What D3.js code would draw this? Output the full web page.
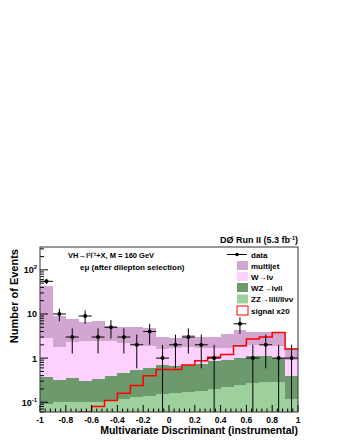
<!DOCTYPE html>
<html>
<head>
<meta charset="utf-8">
<script src="https://cdn.jsdelivr.net/npm/d3@7"></script>
<style>
  body { margin: 0; background: #fff; }
  text { font-family: "Liberation Sans", Arial, sans-serif; }
</style>
</head>
<body>
<svg id="chart" width="340" height="440"></svg>
<script>
// bin edges: 20 bins from -1 to 1
const binEdges = d3.range(21).map(i => -1 + i * 0.1);

// stacked backgrounds (bottom to top), events per bin
const zz = [0.09, 0.1, 0.1, 0.1, 0.1, 0.11, 0.12, 0.13, 0.14, 0.15, 0.16, 0.17, 0.18, 0.2, 0.22, 0.25, 0.27, 0.28, 0.28, 0.12];
const wz = [0.29, 0.22, 0.25, 0.2, 0.23, 0.29, 0.33, 0.42, 0.46, 0.55, 0.49, 0.53, 0.57, 0.65, 0.68, 0.75, 0.83, 0.82, 0.72, 0.28];
const wlnu = [2.42, 1.48, 1.95, 2.1, 2.17, 2.0, 1.75, 1.45, 1.3, 0.9, 1.05, 1.1, 0.95, 0.85, 0.8, 0.8, 0.9, 0.9, 0.9, 0.5];
const multijet = [40, 7.2, 5.2, 4.2, 4.5, 2.9, 2.8, 3.0, 2.9, 1.4, 1.1, 1.5, 1.3, 1.3, 1.9, 2.5, 2.0, 2.0, 1.8, 0.8];

// signal x20 (outline only)
const signal = [0.02, 0.03, 0.045, 0.06, 0.08, 0.11, 0.16, 0.24, 0.4, 0.55, 0.55, 0.7, 0.87, 1.05, 1.2, 1.9, 2.7, 3.0, 3.8, 1.6];

// observed data
const dataCounts = [55, 10, 3, 9, 3, 5, 3, 2, 4, 1, 2, 3, 2, 1, 0, 6, 1, 2, 1, 1];

const xTickValues = [-1, -0.8, -0.6, -0.4, -0.2, 0, 0.2, 0.4, 0.6, 0.8, 1];
const yTickValues = [0.1, 1, 10, 100];
const yTickLabels = [['10', '-1'], ['1', ''], ['10', ''], ['10', '2']];

const bgColors = ['#9dd09d', '#6c9a6c', '#fdd0fd', '#d3a6d2'];

const frame = { left: 40, right: 298, top: 247, bottom: 412 };

const svg = d3.select('#chart');

const x = d3.scaleLinear().domain([-1, 1]).range([frame.left, frame.right]);
const y = d3.scaleLog().domain([0.06, 330]).range([frame.bottom, frame.top]);

svg.append('clipPath').attr('id', 'plotClip')
  .append('rect')
  .attr('x', frame.left).attr('y', frame.top)
  .attr('width', frame.right - frame.left).attr('height', frame.bottom - frame.top);

const plot = svg.append('g').attr('clip-path', 'url(#plotClip)');

// stacked histogram rects
const layers = [zz, wz, wlnu, multijet];
const cum = new Array(20).fill(0);
layers.forEach((layer, li) => {
  for (let i = 0; i < 20; i++) {
    const lo = cum[i];
    const hi = cum[i] + layer[i];
    cum[i] = hi;
    const yLo = lo > 0 ? y(lo) : frame.bottom + 5;
    plot.append('rect')
      .attr('x', x(binEdges[i]))
      .attr('width', x(binEdges[i + 1]) - x(binEdges[i]))
      .attr('y', y(hi))
      .attr('height', Math.max(0, yLo - y(hi)))
      .attr('fill', bgColors[li])
      .attr('shape-rendering', 'crispEdges');
  }
});

// signal outline
const sigPts = signal.map((v, i) => [binEdges[i], v]);
sigPts.push([1, signal[signal.length - 1]]);
plot.append('path')
  .datum(sigPts)
  .attr('d', d3.line().x(d => x(d[0])).y(d => y(Math.max(d[1], 0.03))).curve(d3.curveStepAfter))
  .attr('fill', 'none')
  .attr('stroke', '#ff0000')
  .attr('stroke-width', 1.5);

// data points with sqrt(N) errors
dataCounts.forEach((n, i) => {
  if (n <= 0) return;
  const cx = x((binEdges[i] + binEdges[i + 1]) / 2);
  const err = Math.sqrt(n);
  const yTop = y(n + err);
  const yBot = n - err > 0 ? y(n - err) : frame.bottom + 5;
  plot.append('line')
    .attr('x1', cx).attr('x2', cx).attr('y1', yTop).attr('y2', yBot)
    .attr('stroke', '#000').attr('stroke-width', 1);
  plot.append('line')
    .attr('x1', x(binEdges[i])).attr('x2', x(binEdges[i + 1]))
    .attr('y1', y(n)).attr('y2', y(n))
    .attr('stroke', '#000').attr('stroke-width', 1);
  plot.append('circle')
    .attr('cx', cx).attr('cy', y(n)).attr('r', 2)
    .attr('fill', '#000');
});

// ticks, drawn inside the frame
const axisG = svg.append('g').attr('stroke', '#000').attr('stroke-width', 1);
for (let d = -2; d <= 2; d++) {
  for (let m = 1; m <= 9; m++) {
    const v = m * Math.pow(10, d);
    if (v < 0.06 || v > 330) continue;
    const len = m === 1 ? 8 : 4;
    axisG.append('line')
      .attr('x1', frame.left).attr('x2', frame.left + len)
      .attr('y1', y(v)).attr('y2', y(v));
  }
}
d3.range(51).forEach(i => {
  const v = -1 + i * 0.04;
  const major = i % 5 === 0;
  axisG.append('line')
    .attr('x1', x(v)).attr('x2', x(v))
    .attr('y1', frame.bottom).attr('y2', frame.bottom - (major ? 7 : 3.5));
});

// frame
svg.append('rect')
  .attr('x', frame.left).attr('y', frame.top)
  .attr('width', frame.right - frame.left).attr('height', frame.bottom - frame.top)
  .attr('fill', 'none').attr('stroke', '#333').attr('stroke-width', 1);

// tick labels
xTickValues.forEach(v => {
  svg.append('text')
    .attr('x', x(v)).attr('y', 423)
    .attr('text-anchor', 'middle')
    .attr('font-size', 8.5).attr('font-weight', 'bold')
    .text(d3.format('~g')(v).replace('−', '-'));
});
yTickValues.forEach((v, i) => {
  const t = svg.append('text')
    .attr('x', 37).attr('y', y(v) + 3.5)
    .attr('text-anchor', 'end')
    .attr('font-size', 9).attr('font-weight', 'bold');
  t.append('tspan').text(yTickLabels[i][0]);
  if (yTickLabels[i][1]) {
    t.append('tspan').attr('dy', -4).attr('font-size', 6).text(yTickLabels[i][1]);
  }
});

// axis titles
svg.append('text')
  .attr('x', frame.right).attr('y', 434)
  .attr('text-anchor', 'end')
  .attr('font-size', 10.5).attr('font-weight', 'bold')
  .text('Multivariate Discriminant (instrumental)');
svg.append('text')
  .attr('transform', `translate(18, ${frame.top + 2}) rotate(-90)`)
  .attr('text-anchor', 'end')
  .attr('font-size', 11).attr('font-weight', 'bold')
  .text('Number of Events');

// header
const hdr = svg.append('text')
  .attr('x', frame.right).attr('y', 243)
  .attr('text-anchor', 'end')
  .attr('font-size', 9).attr('font-weight', 'bold');
hdr.append('tspan').text('DØ Run II (5.3 fb');
hdr.append('tspan').attr('dy', -3).attr('font-size', 5.5).text('-1');
hdr.append('tspan').attr('dy', 3).text(')');

// annotations inside the plot
const ann = svg.append('text')
  .attr('x', 68).attr('y', 258)
  .attr('font-size', 7.5).attr('font-weight', 'bold');
ann.append('tspan').text('VH→l');
ann.append('tspan').attr('dy', -2.5).attr('font-size', 4.5).text('±');
ann.append('tspan').attr('dy', 2.5).text('l');
ann.append('tspan').attr('dy', -2.5).attr('font-size', 4.5).text('\'±');
ann.append('tspan').attr('dy', 2.5).text('+X, M = 160 GeV');
svg.append('text')
  .attr('x', 80).attr('y', 270)
  .attr('font-size', 8).attr('font-weight', 'bold')
  .text('eμ  (after dilepton selection)');

// legend
const legRows = [254.5, 265.5, 276.5, 287.5, 299, 310.5];
const legX = 237;
const legG = svg.append('g');
legG.append('line')
  .attr('x1', legX - 10).attr('x2', legX + 10)
  .attr('y1', legRows[0]).attr('y2', legRows[0])
  .attr('stroke', '#000');
legG.append('circle').attr('cx', legX).attr('cy', legRows[0]).attr('r', 1.8).attr('fill', '#000');
legG.append('text').attr('x', legX + 14).attr('y', legRows[0] + 3)
  .attr('font-size', 8).attr('font-weight', 'bold').text('data');

const legEntries = [
  { label: 'multijet', fill: bgColors[3], stroke: 'none' },
  { label: 'W→lν', fill: bgColors[2], stroke: 'none' },
  { label: 'WZ→lνll', fill: bgColors[1], stroke: 'none' },
  { label: 'ZZ→llll/llνν', fill: bgColors[0], stroke: 'none' },
  { label: 'signal x20', fill: '#fff', stroke: '#ff0000' },
];
legEntries.forEach((e, i) => {
  const yy = legRows[i + 1];
  legG.append('rect')
    .attr('x', legX).attr('y', yy - 4.5)
    .attr('width', 11).attr('height', 9)
    .attr('fill', e.fill).attr('stroke', e.stroke).attr('stroke-width', 1);
  legG.append('text').attr('x', legX + 14).attr('y', yy + 3)
    .attr('font-size', 8).attr('font-weight', 'bold').text(e.label);
});
</script>
</body>
</html>
